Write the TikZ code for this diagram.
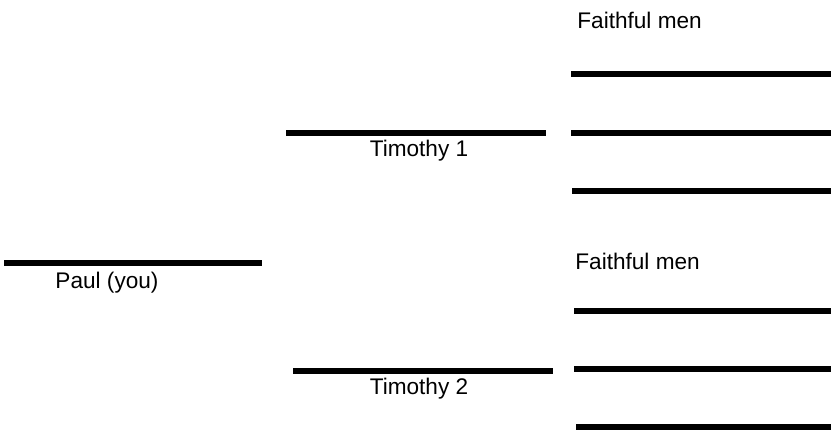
\documentclass[tikz,border=0pt]{standalone}
\usepackage{fontspec}
\setmainfont{Liberation Sans}
\begin{document}
\begin{tikzpicture}[x=0.5pt,y=-0.5pt,
  bar/.style={line width=2.7pt, line cap=butt},
  lbl/.style={font=\fontsize{11.3pt}{13pt}\selectfont, inner sep=0pt}]
\useasboundingbox (0,0) rectangle (831,430);
% Paul
\draw[bar] (4,263) -- (262,263);
\node[lbl, anchor=base] (paul) at (107,288) {Paul (you)};
% Timothy 1
\draw[bar] (286,133) -- (546,133);
\node[lbl, anchor=base] (tim1) at (419,156) {Timothy 1};
% Timothy 2
\draw[bar] (293,371) -- (553,371);
\node[lbl, anchor=base] (tim2) at (419,394) {Timothy 2};
% Faithful men 1
\node[lbl, anchor=base west] (fm1) at (577,28) {Faithful men};
\draw[bar] (571,74) -- (831,74);
\draw[bar] (571,133) -- (831,133);
\draw[bar] (572,191) -- (831,191);
% Faithful men 2
\node[lbl, anchor=base west] (fm2) at (575,269) {Faithful men};
\draw[bar] (574,311) -- (831,311);
\draw[bar] (574,369) -- (831,369);
\draw[bar] (576,427) -- (831,427);
\end{tikzpicture}
\end{document}
